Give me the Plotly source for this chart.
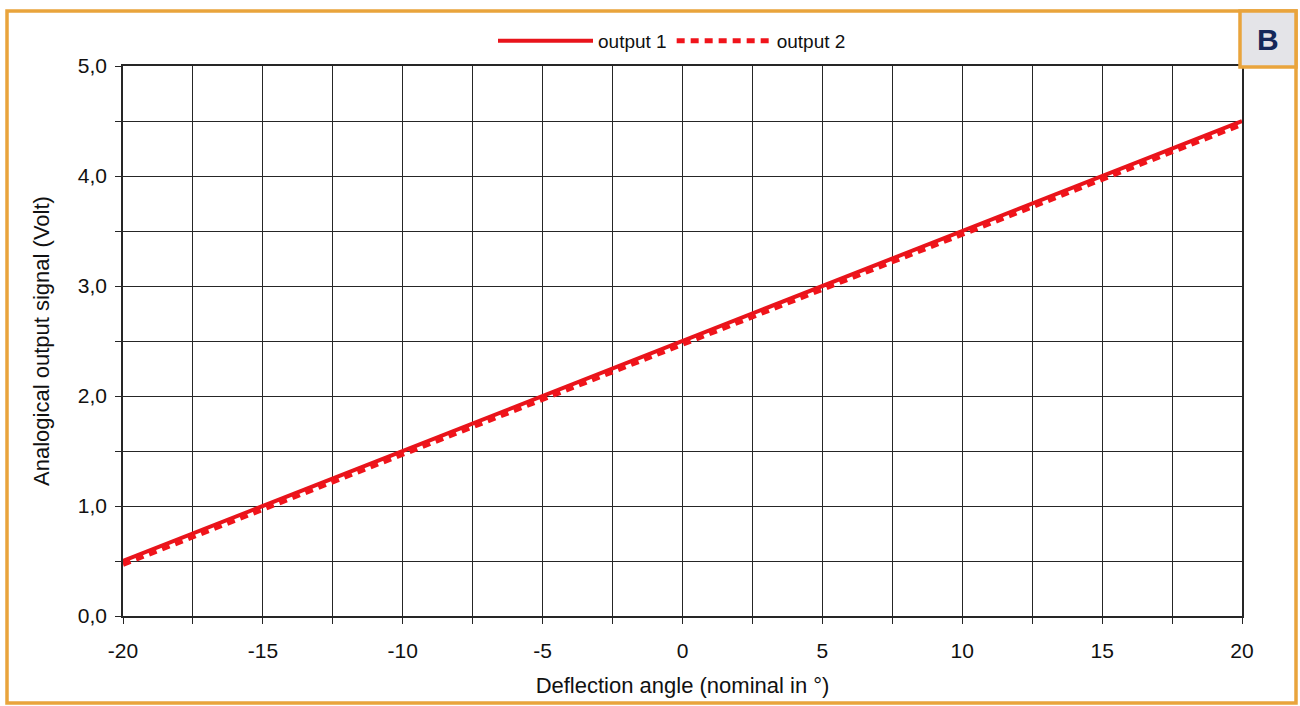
import plotly.graph_objects as go

angles = [-20, -15, -10, -5, 0, 5, 10, 15, 20]
output1 = [0.5, 1.0, 1.5, 2.0, 2.5, 3.0, 3.5, 4.0, 4.5]
output2 = [0.47, 0.97, 1.47, 1.97, 2.47, 2.97, 3.47, 3.97, 4.47]

x_tick_vals = [-20, -15, -10, -5, 0, 5, 10, 15, 20]
x_tick_text = ["-20", "-15", "-10", "-5", "0", "5", "10", "15", "20"]

x_title = "Deflection angle (nominal in °)"
y_title = "Analogical output signal (Volt)"
font = "Liberation Sans, Arial, sans-serif"
orange = "#E9A43C"
grid = "#262626"

fig = go.Figure()
fig.add_trace(go.Scatter(x=angles, y=output1, mode="lines", name="output 1",
                         line=dict(color="#E8141B", width=4)))
fig.add_trace(go.Scatter(x=angles, y=output2, mode="lines", name="output 2",
                         line=dict(color="#F0141B", width=5, dash="8px,6px")))

axis_common = dict(showgrid=True, gridcolor=grid, gridwidth=1.4,
                   showline=True, linecolor=grid, linewidth=1.6, mirror=True,
                   ticks="outside", ticklen=6, tickcolor=grid, tickwidth=1.4,
                   zeroline=False,
                   tickfont=dict(family=font, size=21, color="#111"),
                   title_font=dict(family=font, size=22, color="#111"))

fig.update_xaxes(range=[-20, 20], tickvals=x_tick_vals, ticktext=x_tick_text,
                 ticklabelstandoff=9,
                 title_text=x_title, title_standoff=17,
                 minor=dict(dtick=2.5, tick0=0, showgrid=True, gridcolor=grid, gridwidth=1.4,
                            ticks="outside", ticklen=6, tickcolor=grid),
                 **axis_common)
fig.update_yaxes(range=[0, 5], dtick=1, tick0=0, tickformat=".1f", title_text=y_title,
                 ticklabelstandoff=4, title_standoff=22,
                 minor=dict(dtick=0.5, showgrid=True, gridcolor=grid, gridwidth=1.4,
                            ticks="outside", ticklen=6, tickcolor=grid),
                 **axis_common)

L, R, T, B = 123, 58, 66, 90
W, H = 1300, 706
pw, ph = W - L - R, H - T - B

def px(xp):
    return (xp - L) / pw

def py(yp):
    return (H - B - yp) / ph

shapes = [
    dict(type="rect", xref="paper", yref="paper",
         x0=px(7), x1=px(1296), y0=py(703), y1=py(11),
         line=dict(color=orange, width=3.5), layer="below"),
    dict(type="rect", xref="paper", yref="paper",
         x0=px(1240), x1=px(1296), y0=py(67), y1=py(11),
         line=dict(color=orange, width=3.5), fillcolor="#E4E4E8", layer="above"),
]

fig.update_layout(
    width=W, height=H,
    margin=dict(l=L, r=R, t=T, b=B),
    paper_bgcolor="white", plot_bgcolor="white",
    separators=",.",
    shapes=shapes,
    annotations=[dict(text="<b>B</b>", xref="paper", yref="paper",
                      x=(px(1240) + px(1296)) / 2, y=(py(67) + py(11)) / 2,
                      xanchor="center", yanchor="middle", showarrow=False,
                      font=dict(family=font, size=30, color="#14285A"))],
    legend=dict(orientation="h", x=px(672), xanchor="center", y=py(41), yanchor="middle",
                font=dict(family=font, size=19, color="#111"),
                itemwidth=95, bgcolor="rgba(0,0,0,0)"),
    showlegend=True,
)

fig.write_html("out.html", config={"displayModeBar": False},
               post_script="document.body.style.margin='0';document.body.style.overflow='hidden';")
